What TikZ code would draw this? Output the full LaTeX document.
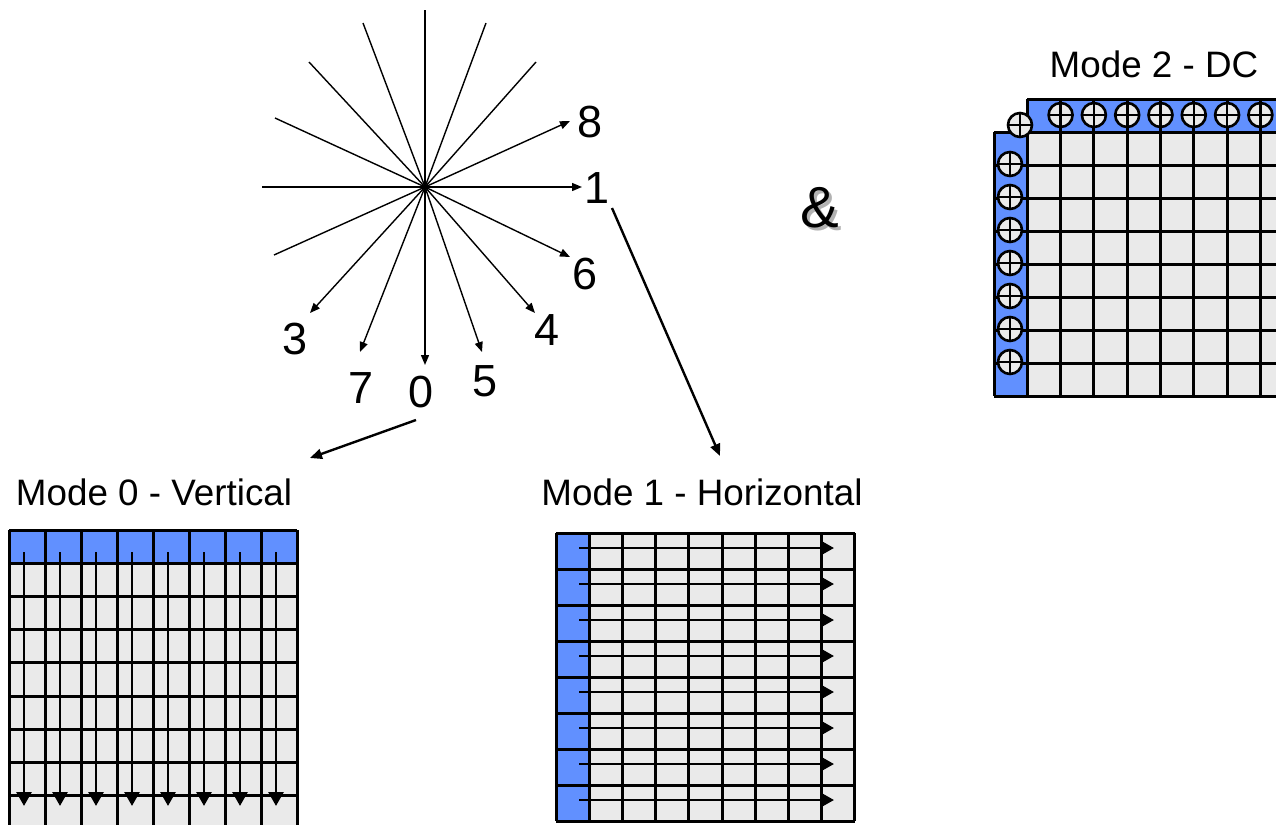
\documentclass[tikz,border=0pt]{standalone}
\usepackage{fontspec}
\setmainfont{Liberation Sans}
\usetikzlibrary{arrows.meta}
\definecolor{cellblue}{HTML}{6190FF}
\definecolor{cellgray}{HTML}{EAEAEA}
\begin{document}
\begin{tikzpicture}[x=0.5pt,y=-0.5pt,
  gridline/.style={line width=1.5pt,black},
  ray/.style={line width=0.7pt},
  rayarrow/.style={ray,-{Triangle[length=5pt,width=4pt]}},
  linkarrow/.style={line width=1.2pt,-{Triangle[length=6pt,width=5pt]}},
  cellarrow/.style={line width=1.4pt,-{Triangle[length=7pt,width=7.5pt]}},
  modelabel/.style={font=\fontsize{18.4}{20}\selectfont,inner sep=0pt,anchor=base},
  digit/.style={font=\fontsize{22.5}{24}\selectfont,inner sep=0pt,anchor=base},
  plusdot/.style={circle,draw=black,line width=1.3pt,fill=cellgray,minimum size=12pt,inner sep=0pt,
    path picture={\draw[line width=1.3pt] (path picture bounding box.north) -- (path picture bounding box.south)
      (path picture bounding box.west) -- (path picture bounding box.east);}}
]
\useasboundingbox (0,0) rectangle (1276,825);
\clip (0,0) rectangle (1276,825);

% ---------- star of directions ----------
\coordinate (c) at (425,187);
\foreach \p in {(425,10),(262,187),(275,118),(274,255),(309,62),(363,23),(486,23),(536,62)}
  \draw[ray] (c) -- \p;
\coordinate (e0) at (425,365);
\coordinate (e1) at (582,187);
\coordinate (e8) at (570,121);
\coordinate (e6) at (570,257);
\coordinate (e4) at (535,313);
\coordinate (e3) at (310,313);
\coordinate (e5) at (482,352);
\coordinate (e7) at (360,352);
\foreach \e in {e0,e1,e8,e6,e4,e3,e5,e7}
  \draw[rayarrow] (c) -- (\e);

\node[digit] (l8) at (590,137) {8};
\node[digit] (l1) at (597,203) {1};
\node[digit] (l6) at (585,289) {6};
\node[digit] (l4) at (547,345) {4};
\node[digit] (l3) at (295,354) {3};
\node[digit] (l7) at (361,403) {7};
\node[digit] (l0) at (421,407) {0};
\node[digit] (l5) at (485,396) {5};

% ampersand with shadow
\node[font=\fontsize{29}{30}\selectfont,inner sep=0pt,text=black!30] (ampsh) at (823,211) {\&};
\node[font=\fontsize{29}{30}\selectfont,inner sep=0pt] (amp) at (820,208) {\&};

% ---------- labels ----------
\node[modelabel] (m0) at (154,505) {Mode 0 - Vertical};
\node[modelabel] (m1) at (702,505) {Mode 1 - Horizontal};
\node[modelabel] (m2) at (1154,77) {Mode 2 - DC};

\coordinate (a0s) at (416,420);
\coordinate (a0e) at (310,458);
\draw[linkarrow] (a0s) -- (a0e);
\coordinate (a1s) at (612,208);
\coordinate (a1e) at (720,456);
\draw[linkarrow] (a1s) -- (a1e);

% ---------- Mode 0 grid ----------
\fill[cellgray] (9,562) rectangle (297,830);
\fill[cellblue] (9,530) rectangle (297,562);
\foreach \i in {0,...,8}
  \draw[gridline] ({9+36*\i},530) -- ({9+36*\i},830);
\foreach \j in {0,...,9}
  \draw[gridline] (9,{530+33.2*\j}) -- (297,{530+33.2*\j});
\foreach \i in {0,...,7}
  \draw[cellarrow] ({24+36*\i},552) -- ({24+36*\i},806);

% ---------- Mode 1 grid ----------
\fill[cellgray] (589.2,533) rectangle (854.8,821);
\fill[cellblue] (556,533) rectangle (589.2,821);
\foreach \i in {0,...,9}
  \draw[gridline] ({556+33.2*\i},533) -- ({556+33.2*\i},821);
\foreach \j in {0,...,8}
  \draw[gridline] (556,{533+36*\j}) -- (854.8,{533+36*\j});
\foreach \j in {0,...,7}
  \draw[cellarrow] (579,{548+36*\j}) -- (834,{548+36*\j});

% ---------- Mode 2 grid ----------
\fill[cellgray] (1027.3,132) rectangle (1300,396);
\fill[cellblue] (1027.3,99) rectangle (1300,132);
\fill[cellblue] (994,132) rectangle (1027.3,396);
\draw[gridline] (994,132) -- (994,396);
\foreach \i in {1,...,9}
  \draw[gridline] ({994+33.3*\i},99) -- ({994+33.3*\i},396);
\draw[gridline] (1027.3,99) -- (1300,99);
\foreach \j in {1,...,9}
  \draw[gridline] (994,{99+33*\j}) -- (1300,{99+33*\j});
\node[plusdot] (pc) at (1020,125) {};
\foreach \k in {0,...,7}
  \node[plusdot] (pt\k) at ({1060.6+33.3*\k},115) {};
\foreach \k in {0,...,6}
  \node[plusdot] (pl\k) at (1010,{164+33*\k}) {};
\end{tikzpicture}
\end{document}
